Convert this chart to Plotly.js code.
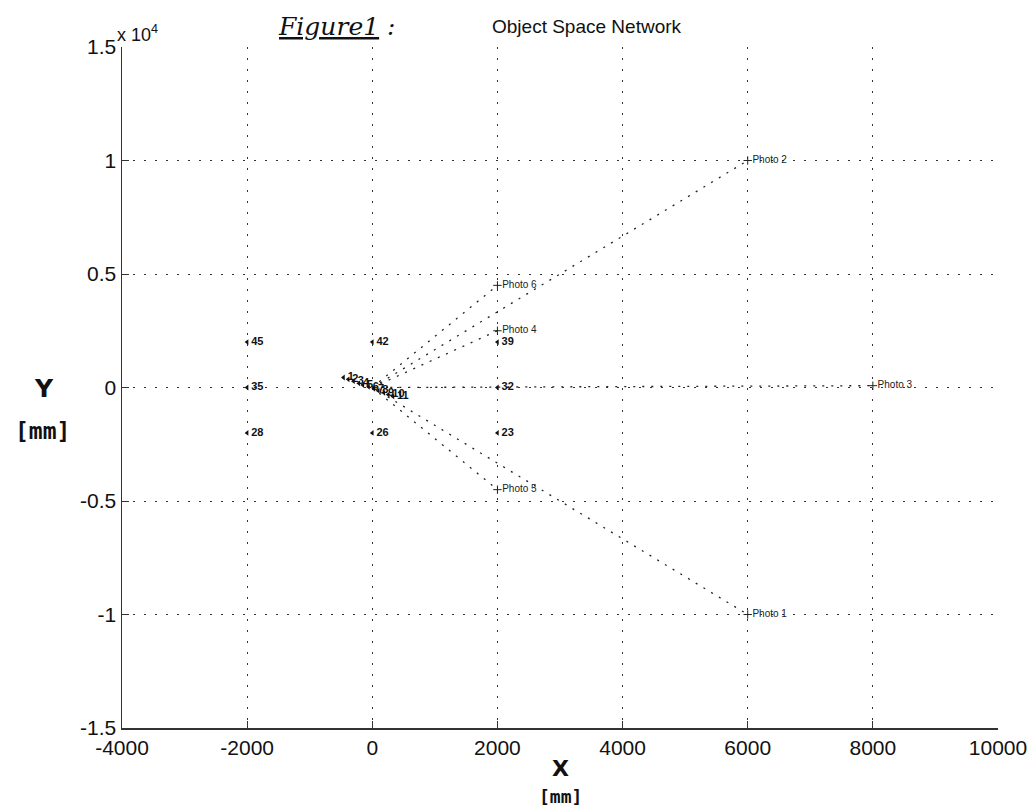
<!DOCTYPE html>
<html>
<head>
<meta charset="utf-8">
<script src="https://cdn.plot.ly/plotly-3.0.1.min.js"></script>
<style>html,body{margin:0;padding:0;background:#fff;}#chart{width:1033px;height:808px;}</style>
</head>
<body>
<div id="chart"></div>
<script>
// Camera (photo) stations
var photoNames = ["Photo 1", "Photo 2", "Photo 3", "Photo 4", "Photo 5", "Photo 6"];
var photoX = [6000, 6000, 8000, 2000, 2000, 2000];
var photoY = [-10000, 10000, 80, 2500, -4500, 4500];

// Control points on the grid
var ctrlNames = ["45", "35", "28", "42", "26", "39", "32", "23"];
var ctrlX = [-2000, -2000, -2000, 0, 0, 2000, 2000, 2000];
var ctrlY = [2000, 0, -2000, 2000, -2000, 2000, 0, -2000];

// Object points cluster near origin
var objNames = ["1", "2", "3", "4", "5", "6", "7", "8", "9", "10", "11"];
var objX = [-460, -385, -300, -215, -150, -60, 25, 95, 185, 255, 330];
var objY = [440, 360, 280, 185, 110, 30, -60, -140, -235, -310, -395];

// Ray origin (object space origin)
var originX = 0, originY = 0;

var rayX = [], rayY = [];
for (var i = 0; i < photoX.length; i++) {
  rayX.push(originX, photoX[i], null);
  rayY.push(originY, photoY[i], null);
}

var xTicks = [-4000, -2000, 0, 2000, 4000, 6000, 8000, 10000];
var yTicks = [-15000, -10000, -5000, 0, 5000, 10000, 15000];
var yTickText = ["-1.5", "-1", "-0.5", "0", "0.5", "1", "1.5"];

var FONT = "Liberation Sans, Arial, Helvetica, sans-serif";

var traces = [
  {
    x: rayX, y: rayY, mode: "lines", type: "scatter",
    line: {color: "#222", width: 1.3, dash: "2px,7px"},
    hoverinfo: "skip", showlegend: false
  },
  {
    x: photoX, y: photoY, text: photoNames, mode: "markers+text", type: "scatter",
    marker: {symbol: "cross-thin", size: 6, line: {color: "#222", width: 1}},
    textposition: "middle right",
    textfont: {family: FONT, size: 10, color: "#222"},
    showlegend: false
  },
  {
    x: ctrlX, y: ctrlY, text: ctrlNames, mode: "markers+text", type: "scatter",
    marker: {symbol: "triangle-left", size: 5, color: "#111"},
    textposition: "middle right",
    textfont: {family: FONT, size: 11, color: "#111", weight: "bold"},
    showlegend: false
  },
  {
    x: objX, y: objY, text: objNames, mode: "markers+text", type: "scatter",
    marker: {symbol: "triangle-left", size: 5, color: "#111"},
    textposition: "middle right",
    textfont: {family: FONT, size: 11, color: "#111", weight: "bold"},
    showlegend: false
  }
];

var layout = {
  width: 1033, height: 808,
  margin: {l: 122, r: 35, t: 47, b: 80},
  paper_bgcolor: "#fff", plot_bgcolor: "#fff",
  showlegend: false,
  xaxis: {
    range: [-4000, 10000], tickvals: xTicks, ticktext: xTicks.map(String),
    ticks: "inside", ticklen: 7, tickcolor: "#333",
    showline: true, linecolor: "#333", linewidth: 1.5,
    showgrid: true, gridcolor: "#333", gridwidth: 1, griddash: "2px,9px",
    zeroline: false,
    tickfont: {family: FONT, size: 21, color: "#111"}
  },
  xaxis2: {
    range: [-4000, 10000], overlaying: "x", side: "top", tickvals: xTicks,
    showticklabels: false, ticks: "inside", ticklen: 5, tickcolor: "#888",
    showgrid: false, zeroline: false, showline: false
  },
  yaxis: {
    range: [-15000, 15000], tickvals: yTicks, ticktext: yTickText,
    ticks: "inside", ticklen: 7, tickcolor: "#333",
    showline: true, linecolor: "#333", linewidth: 1.5,
    showgrid: true, gridcolor: "#333", gridwidth: 1, griddash: "2px,9px",
    zeroline: false,
    tickfont: {family: FONT, size: 21, color: "#111"}
  },
  annotations: [
    {xref: "paper", yref: "paper", x: -0.008, y: 1.0, xanchor: "left", yanchor: "bottom",
     text: "x 10<sup>4</sup>", showarrow: false, font: {family: FONT, size: 18, color: "#111"}},
    {xref: "paper", yref: "paper", x: 0.176, y: 1.006, xanchor: "left", yanchor: "bottom",
     text: "<i><u>Figure1</u> :</i>", showarrow: false,
     font: {family: "DejaVu Serif, serif", size: 25, color: "#111"}},
    {xref: "paper", yref: "paper", x: 0.42, y: 1.012, xanchor: "left", yanchor: "bottom",
     text: "Object Space Network", showarrow: false,
     font: {family: FONT, size: 19, color: "#111"}},
    {xref: "paper", yref: "paper", x: 0.5, y: -0.0602, xanchor: "center", yanchor: "middle",
     text: "<b>X</b>", showarrow: false, font: {family: "DejaVu Sans, sans-serif", size: 22, color: "#111"}},
    {xref: "paper", yref: "paper", x: 0.5, y: -0.1, xanchor: "center", yanchor: "middle",
     text: "<b>[mm]</b>", showarrow: false, font: {family: "DejaVu Sans Mono, monospace", size: 18, color: "#111"}},
    {xref: "paper", yref: "paper", x: -0.089, y: 0.498, xanchor: "center", yanchor: "middle",
     text: "<b>Y</b>", showarrow: false, font: {family: "DejaVu Sans, sans-serif", size: 25, color: "#111"}},
    {xref: "paper", yref: "paper", x: -0.0913, y: 0.436, xanchor: "center", yanchor: "middle",
     text: "<b>[mm]</b>", showarrow: false, font: {family: "DejaVu Sans Mono, monospace", size: 23, color: "#111"}}
  ]
};

Plotly.newPlot("chart", traces, layout, {displayModeBar: false, staticPlot: true});
</script>
</body>
</html>
